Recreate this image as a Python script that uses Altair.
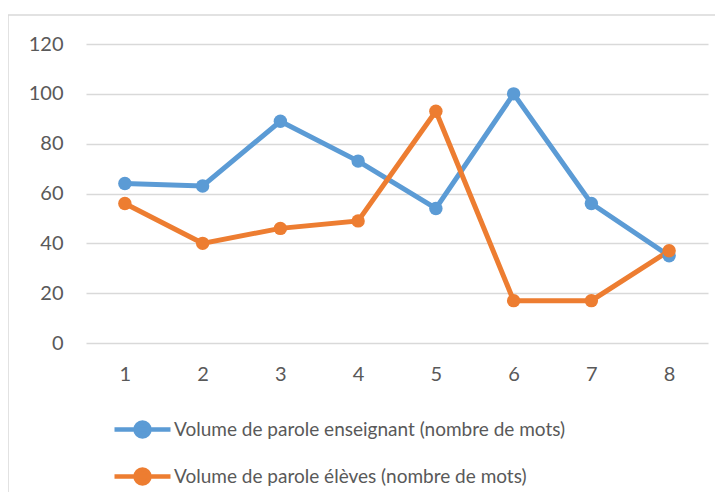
import altair as alt
import pandas as pd

categories = ["1", "2", "3", "4", "5", "6", "7", "8"]
enseignant = [64, 63, 89, 73, 54, 100, 56, 35]
eleves = [56, 40, 46, 49, 93, 17, 17, 37]
series_names = [
    "Volume de parole enseignant (nombre de mots)",
    "Volume de parole élèves (nombre de mots)",
]
colors = ["#5B9BD5", "#ED7D31"]
y_ticks = [0, 20, 40, 60, 80, 100, 120]

rows = []
for c, v in zip(categories, enseignant):
    rows.append({"cat": c, "val": v, "serie": series_names[0]})
for c, v in zip(categories, eleves):
    rows.append({"cat": c, "val": v, "serie": series_names[1]})
df = pd.DataFrame(rows)

FONT = "Lato"
TXT = "#595959"

x_enc = alt.X("cat:N", sort=categories, title=None,
              scale=alt.Scale(paddingInner=0, paddingOuter=0.5),
              axis=alt.Axis(labelAngle=0, labelFontSize=20, labelColor=TXT, labelFont=FONT,
                            ticks=False, domain=False, grid=False, labelPadding=21))
y_enc = alt.Y("val:Q", title=None,
              scale=alt.Scale(domain=[0, 120], nice=False),
              axis=alt.Axis(values=y_ticks, labelFontSize=20, labelColor=TXT, labelFont=FONT,
                            ticks=False, domain=False, grid=True, gridColor="#d9d9d9",
                            gridWidth=1.5, labelPadding=23))
color_enc = alt.Color("serie:N", sort=series_names,
                      scale=alt.Scale(domain=series_names, range=colors),
                      legend=alt.Legend(
                          orient="none", legendX=26, legendY=355, direction="vertical",
                          title=None, labelFontSize=19, labelColor=TXT, labelFont=FONT,
                          symbolType="M-1,0L1,0M0.25,0A0.25,0.25,0,1,1,-0.25,0A0.25,0.25,0,1,1,0.25,0Z",
                          symbolSize=3136, symbolStrokeWidth=4.5, rowPadding=-11,
                          labelOffset=1, labelLimit=650))

frame = alt.Chart(pd.DataFrame({"a": [0]})).mark_rect(
    fill=None, stroke="#d9d9d9", strokeWidth=1.5
).encode(x=alt.value(-78), x2=alt.value(720), y=alt.value(-29), y2=alt.value(500))

base = alt.Chart(df)
lines = base.mark_line(strokeWidth=5).encode(x=x_enc, y=y_enc, color=color_enc, detail="serie:N")
points = base.mark_point(filled=True, size=180, opacity=1).encode(x=x_enc, y=y_enc, color=color_enc)

chart = alt.layer(frame, lines, points).properties(
    width=622, height=299,
    autosize=alt.AutoSizeParams(type="none"),
    padding={"left": 78, "top": 36, "right": 7, "bottom": 149},
).configure_view(stroke=None)

chart.save("out.html", embed_options={"renderer": "svg", "actions": False})
